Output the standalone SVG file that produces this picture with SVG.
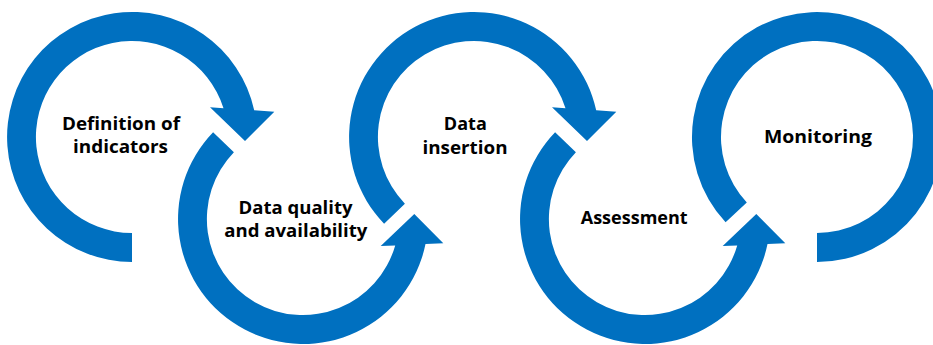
<svg xmlns="http://www.w3.org/2000/svg" width="933" height="345" viewBox="0 0 933 345">
<style>
.arc{fill:#0070C0;stroke:none}
.lbl{font-family:"Open Sans","Liberation Sans",sans-serif;font-weight:700;font-size:18.5px;fill:#000;text-anchor:middle}
</style>
<rect width="933" height="345" fill="#fff"/>
<g id="connectors">
<path class="arc" d="M132,262 A125,125 0 1 1 254.2,110.3 L274.3,111.7 L245,141 L210,107.3 L223.5,108.2 A96,96 0 1 0 132,233 Z"/>
<path class="arc" d="M213.1,132.2 A125,125 0 1 0 425.5,244.1 L443.3,243.3 L414.3,214 L380.7,246 L395.2,245.4 A96,96 0 1 1 233.9,152.3 Z"/>
<path class="arc" d="M384.1,223.8 A125,125 0 1 1 596.2,110.3 L616.3,111.7 L587,141 L552,107.3 L565.5,108.2 A96,96 0 1 0 404.9,203.7 Z"/>
<path class="arc" d="M555.1,132.2 A125,125 0 1 0 767.5,244.1 L785.3,243.3 L756.3,214 L722.7,246 L737.2,245.4 A96,96 0 1 1 575.9,152.3 Z"/>
<path class="arc" d="M725.6,222.3 A125,125 0 1 1 817,262 L817,233 A96,96 0 1 0 746.8,202.5 Z"/>
</g>
<g id="node1"><text class="lbl" x="121" y="130" textLength="118" lengthAdjust="spacingAndGlyphs">Definition of</text><text class="lbl" x="120.5" y="153" textLength="95" lengthAdjust="spacingAndGlyphs">indicators</text></g>
<g id="node2"><text class="lbl" x="295.5" y="214" textLength="114" lengthAdjust="spacingAndGlyphs">Data quality</text><text class="lbl" x="295.8" y="237" textLength="143" lengthAdjust="spacingAndGlyphs">and availability</text></g>
<g id="node3"><text class="lbl" x="465.3" y="130" textLength="43" lengthAdjust="spacingAndGlyphs">Data</text><text class="lbl" x="465" y="154" textLength="85" lengthAdjust="spacingAndGlyphs">insertion</text></g>
<g id="node4"><text class="lbl" x="634.2" y="224.3" textLength="107" lengthAdjust="spacingAndGlyphs">Assessment</text></g>
<g id="node5"><text class="lbl" x="818" y="142.7" textLength="108" lengthAdjust="spacingAndGlyphs">Monitoring</text></g>
</svg>
